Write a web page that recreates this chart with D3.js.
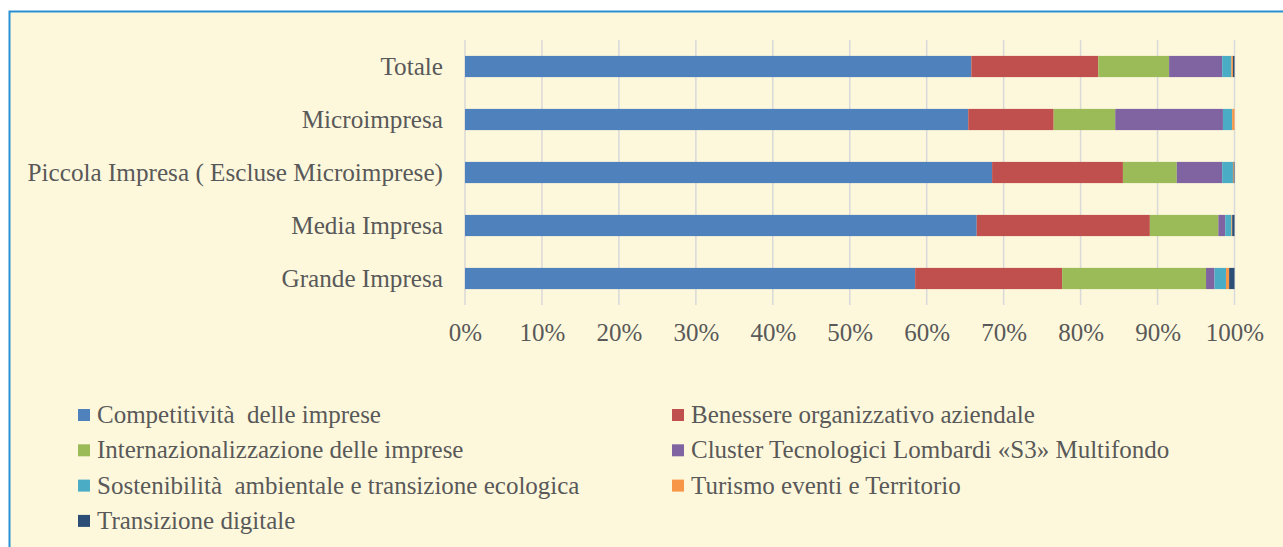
<!DOCTYPE html>
<html>
<head>
<meta charset="utf-8">
<script src="https://cdn.jsdelivr.net/npm/d3@7"></script>
<style>
	body { margin: 0; background: #ffffff; }
	svg text { font-family: "Liberation Serif", "DejaVu Serif", serif; fill: #595959; }
</style>
</head>
<body>
<script>
// categories, top to bottom
var categories = ["Totale", "Microimpresa", "Piccola Impresa ( Escluse Microimprese)", "Media Impresa", "Grande Impresa"];

var seriesNames = [
	"Competitività  delle imprese",
	"Benessere organizzativo aziendale",
	"Internazionalizzazione delle imprese",
	"Cluster Tecnologici Lombardi «S3» Multifondo",
	"Sostenibilità  ambientale e transizione ecologica",
	"Turismo eventi e Territorio",
	"Transizione digitale"
];

// shares in %, one array per series, in category order
var competitivita   = [65.8, 65.4, 68.5, 66.5, 58.5];
var benessere       = [16.5, 11.1, 17.0, 22.5, 19.1];
var internaz        = [9.2, 8.0, 7.0, 8.9, 18.7];
var cluster         = [6.9, 14.0, 5.9, 0.9, 1.1];
var sostenibilita   = [1.2, 1.2, 1.4, 0.8, 1.5];
var turismo         = [0.2, 0.3, 0.1, 0.1, 0.4];
var digitale        = [0.2, 0.0, 0.1, 0.3, 0.7];

var tickValues = [0, 10, 20, 30, 40, 50, 60, 70, 80, 90, 100];

var colors = ["#4f81bd", "#c0504d", "#9bbb59", "#8064a2", "#4bacc6", "#f79646", "#2c4d75"];

window.onload = function(){

	var w = 1283, h = 547;
	var seriesValues = [competitivita, benessere, internaz, cluster, sostenibilita, turismo, digitale];

	var rows = categories.map(function(c, i){
		var row = {cat: c};
		seriesNames.forEach(function(s, j){ row[s] = seriesValues[j][i]; });
		return row;
	});

	var svg = d3.select("body")
		.append("svg")
		.attr("width", w)
		.attr("height", h);

	// panel with blue frame
	svg.append("rect")
		.attr("x", 9.5)
		.attr("y", 11.5)
		.attr("width", w + 20)
		.attr("height", h + 20)
		.style("fill", "#fdf8dc")
		.style("stroke", "#2a90d4")
		.style("stroke-width", 2);

	var x = d3.scaleLinear()
		.domain([0, 100])
		.range([465, 1234.5]);

	var y = d3.scaleBand()
		.domain(categories)
		.range([40, 305])
		.paddingInner(0.6)
		.paddingOuter(0.3);

	// gridlines
	svg.append("g")
		.selectAll("line")
		.data(tickValues)
		.enter()
		.append("line")
		.attr("x1", function(d){ return x(d); })
		.attr("x2", function(d){ return x(d); })
		.attr("y1", 40)
		.attr("y2", 305)
		.style("stroke", "#d9d9d9")
		.style("stroke-width", 1.5);

	var stack = d3.stack().keys(seriesNames);
	var layers = stack(rows);

	svg.append("g")
		.selectAll("g")
		.data(layers)
		.enter()
		.append("g")
		.style("fill", function(d, i){ return colors[i]; })
		.selectAll("rect")
		.data(function(d){ return d; })
		.enter()
		.append("rect")
		.attr("x", function(d){ return x(d[0]); })
		.attr("width", function(d){ return Math.max(0, x(d[1]) - x(d[0])); })
		.attr("y", function(d){ return y(d.data.cat); })
		.attr("height", y.bandwidth());

	// category axis
	var yAxis = d3.axisLeft(y).tickSize(0).tickPadding(0);
	var gy = svg.append("g")
		.attr("transform", "translate(443,0)")
		.call(yAxis);
	gy.select(".domain").remove();
	gy.selectAll("text")
		.attr("fill", "#595959")
		.style("font-size", "25.2px")
		.attr("dy", "0.32em");

	// value axis
	var xAxis = d3.axisBottom(x)
		.tickValues(tickValues)
		.tickSize(0)
		.tickPadding(0)
		.tickFormat(function(d){ return d + "%"; });
	var gx = svg.append("g")
		.attr("transform", "translate(0,333)")
		.call(xAxis);
	gx.select(".domain").remove();
	gx.selectAll("text")
		.attr("fill", "#595959")
		.attr("dy", "0.32em")
		.style("font-size", "25px");

	// legend
	var legend = svg.append("g")
		.selectAll("g")
		.data(seriesNames)
		.enter()
		.append("g")
		.attr("transform", function(d, i){
			var col = i % 2, row = Math.floor(i / 2);
			return "translate(" + (col ? 672 : 78) + "," + (415 + row * 35.3) + ")";
		});

	legend.append("rect")
		.attr("x", 0)
		.attr("y", -6)
		.attr("width", 12)
		.attr("height", 12)
		.style("fill", function(d, i){ return colors[i]; });

	legend.append("text")
		.attr("x", 19)
		.attr("dy", "0.32em")
		.style("font-size", "25px")
		.style("white-space", "pre")
		.text(function(d){ return d; });
};
</script>
</body>
</html>
